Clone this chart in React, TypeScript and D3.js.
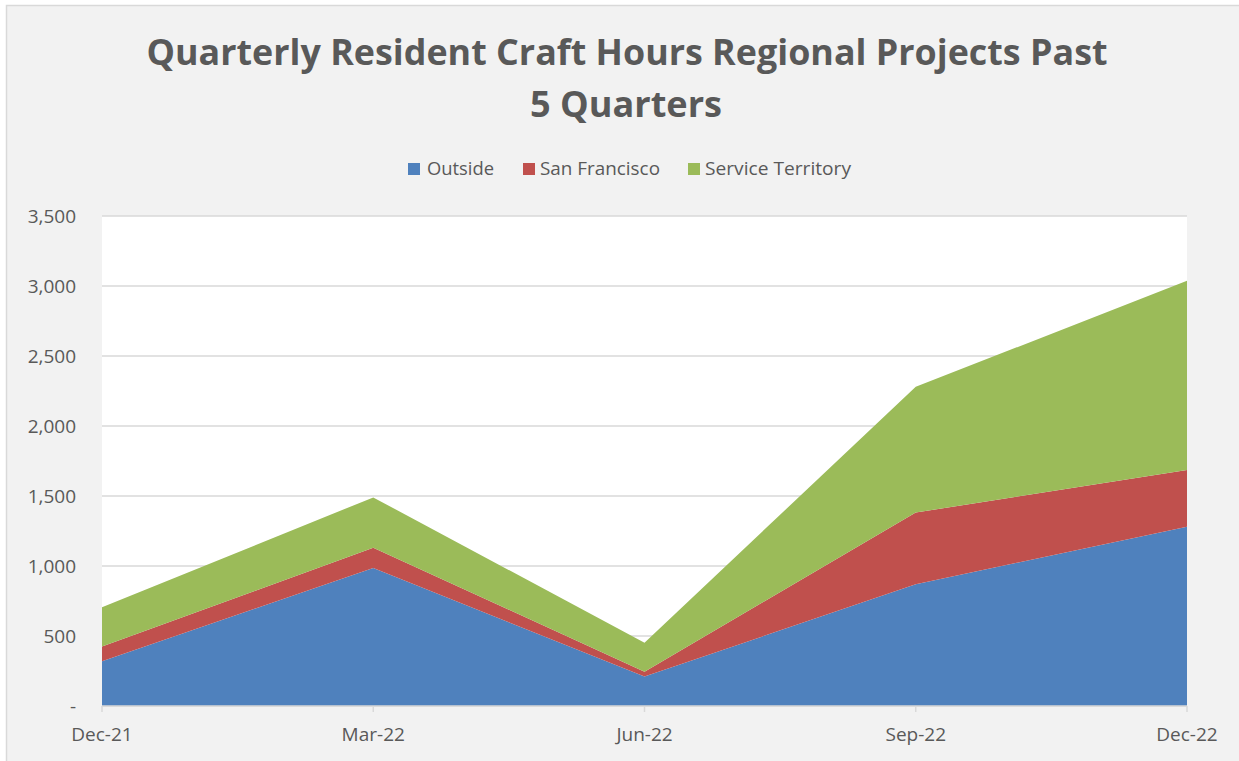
import React from "react";
import * as d3 from "d3";

const categories = ["Dec-21", "Mar-22", "Jun-22", "Sep-22", "Dec-22"];
const outside = [320, 985, 210, 870, 1280];
const sanFrancisco = [105, 145, 35, 512, 405];
const serviceTerritory = [280, 360, 207, 898, 1352];
const seriesNames = ["Outside", "San Francisco", "Service Territory"];
const seriesColors = ["#4f81bd", "#c0504d", "#9bbb59"];
const yTicks = [0, 500, 1000, 1500, 2000, 2500, 3000, 3500];
const titleLines = ["Quarterly Resident Craft Hours Regional Projects Past", "5 Quarters"];

const W = 1239;
const H = 761;
const plot = { left: 102, right: 1187, top: 216, bottom: 706 };
const FONT = "'Open Sans', 'Noto Sans', sans-serif";
const TEXT = "#595959";

export default function App() {
  const rows = categories.map((c, i) => ({
    cat: c,
    Outside: outside[i],
    "San Francisco": sanFrancisco[i],
    "Service Territory": serviceTerritory[i],
  }));
  const x = d3.scalePoint<string>().domain(categories).range([plot.left, plot.right]);
  const y = d3.scaleLinear().domain([0, 3500]).range([plot.bottom, plot.top]);
  const stack = d3.stack<any>().keys(seriesNames)(rows);
  const area = d3
    .area<any>()
    .x((d) => x(d.data.cat) as number)
    .y0((d) => y(d[0]))
    .y1((d) => y(d[1]));
  const fmt = d3.format(",");

  const legendItems = [
    { name: seriesNames[0], sq: 408, tx: 427, len: 67 },
    { name: seriesNames[1], sq: 523, tx: 540, len: 120 },
    { name: seriesNames[2], sq: 688, tx: 705, len: 146 },
  ];

  return (
    <svg width={W} height={H} style={{ position: "absolute", left: 0, top: 0 }} fontFamily={FONT}>
      <rect x={0} y={0} width={W} height={H} fill="#ffffff" />
      <rect x={6.5} y={5.5} width={W} height={H} fill="#f2f2f2" stroke="#d9d9d9" strokeWidth={1.5} />
      <text x={627} y={65} textAnchor="middle" fontSize={36} fontWeight="bold" fill={TEXT} textLength={961} lengthAdjust="spacingAndGlyphs">
        {titleLines[0]}
      </text>
      <text x={626} y={117} textAnchor="middle" fontSize={36} fontWeight="bold" fill={TEXT} textLength={192} lengthAdjust="spacingAndGlyphs">
        {titleLines[1]}
      </text>
      {legendItems.map((l, i) => (
        <g key={l.name}>
          <rect x={l.sq} y={163} width={12} height={12} fill={seriesColors[i]} />
          <text x={l.tx} y={175} fontSize={18} fill={TEXT} textLength={l.len} lengthAdjust="spacingAndGlyphs">
            {l.name}
          </text>
        </g>
      ))}
      <rect x={plot.left} y={plot.top} width={plot.right - plot.left} height={plot.bottom - plot.top} fill="#ffffff" />
      {yTicks.map((t) => (
        <line key={t} x1={plot.left} x2={plot.right} y1={y(t)} y2={y(t)} stroke="#d9d9d9" strokeWidth={1.5} />
      ))}
      {stack.map((s, i) => (
        <path key={s.key} d={area(s) || ""} fill={seriesColors[i]} />
      ))}
      <line x1={plot.left} x2={plot.right} y1={plot.bottom} y2={plot.bottom} stroke="#d9d9d9" strokeWidth={1.5} />
      {categories.map((c) => (
        <g key={c}>
          <line x1={x(c)} x2={x(c)} y1={plot.bottom} y2={plot.bottom + 6} stroke="#d9d9d9" strokeWidth={1.5} />
          <text x={x(c)} y={741} textAnchor="middle" fontSize={19} fill={TEXT}>
            {c}
          </text>
        </g>
      ))}
      {yTicks.map((t) => (
        <text key={t} x={76} y={y(t) + 7} textAnchor="end" fontSize={19} fill={TEXT}>
          {t === 0 ? "-" : fmt(t)}
        </text>
      ))}
    </svg>
  );
}
